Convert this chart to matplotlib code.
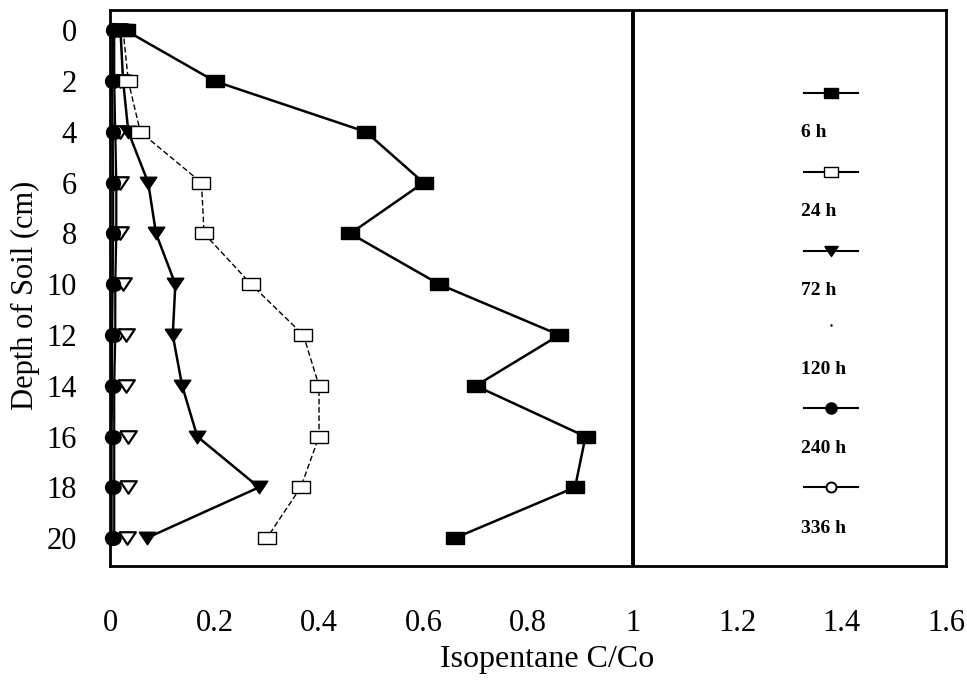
import numpy as np
import matplotlib
matplotlib.use("Agg")
import matplotlib.pyplot as plt

plt.rcParams['font.family'] = ['Liberation Serif', 'DejaVu Serif']

# soil depth (cm) and isopentane C/Co at each sampling time
depth = [0, 2, 4, 6, 8, 10, 12, 14, 16, 18, 20]
c_6h = [0.03, 0.20, 0.49, 0.60, 0.46, 0.63, 0.86, 0.70, 0.91, 0.89, 0.66]
c_24h = [0.025, 0.035, 0.058, 0.175, 0.18, 0.27, 0.37, 0.40, 0.40, 0.365, 0.30]
c_72h = [0.02, 0.025, 0.035, 0.073, 0.088, 0.125, 0.12, 0.138, 0.167, 0.285, 0.07]
c_120h = [0.015, 0.02, 0.02, 0.02, 0.02, 0.024, 0.03, 0.031, 0.035, 0.035, 0.033]
c_240h = [0.005, 0.004, 0.005, 0.006, 0.006, 0.005, 0.004, 0.004, 0.003, 0.003, 0.003]
c_336h = [0.008, 0.008, 0.010, 0.012, 0.012, 0.010, 0.010, 0.008, 0.008, 0.008, 0.008]

labels = ['6 h', '24 h', '72 h', '120 h', '240 h', '336 h']
xticks = [0, 0.2, 0.4, 0.6, 0.8, 1, 1.2, 1.4, 1.6]
xticklabels = ['0', '0.2', '0.4', '0.6', '0.8', '1', '1.2', '1.4', '1.6']

# slightly flattened marker shapes
sq = [(-1, -0.7), (1, -0.7), (1, 0.7), (-1, 0.7), (-1, -0.7)]
tri = [(-1, 0.75), (1, 0.75), (0, -0.75), (-1, 0.75)]

styles = [
    dict(marker=sq, ms=13, mfc='black', ls='-', lw=1.8),
    dict(marker=sq, ms=13, mfc='white', mew=1.0, ls=(0, (4, 2)), lw=1.0),
    dict(marker=tri, ms=12, mfc='black', ls='-', lw=1.8),
    dict(marker=tri, ms=12, mfc='white', mew=1.6, ls='none', lw=0),
    dict(marker='o', ms=10, mfc='black', ls='-', lw=1.6),
    dict(marker='o', ms=9, mfc='white', mew=1.4, ls='-', lw=1.6),
]

fig = plt.figure(figsize=(9.67, 6.80), dpi=100)
ax = fig.add_axes([0.1138, 0.1676, 0.8645, 0.8176])

series = [c_6h, c_24h, c_72h, c_120h, c_240h, c_336h]
order = [5, 4, 3, 2, 1, 0]
for i in order:
    ax.plot(series[i], depth, color='black', mec='black', clip_on=False,
            zorder=3 + (5 - i) * 0.1 if i != 4 else 3.6, **styles[i])

ax.axvline(1.0, color='black', lw=2.8)

ax.set_xlim(0, 1.6)
ax.set_ylim(21.1, -0.8)
ax.set_xticks(xticks)
ax.set_xticklabels(xticklabels, fontsize=22)
ax.set_yticks(depth)
ax.set_yticklabels([str(d) for d in depth], fontsize=22)
ax.tick_params(axis='x', length=0, pad=31)
ax.tick_params(axis='y', length=0, pad=24)
for s in ax.spines.values():
    s.set_linewidth(2.0)

ax.set_xlabel('Isopentane C/Co', fontsize=23)
ax.xaxis.set_label_coords(0.523, -0.142)
ax.set_ylabel('Depth of Soil (cm)', fontsize=22)
ax.yaxis.set_label_coords(-0.084, 0.487)

# legend: sample line above, label below
line_y = [0.851, 0.709, 0.567, 0.433, 0.284, 0.142]
text_y = [0.779, 0.637, 0.496, 0.353, 0.212, 0.068]
for i in range(6):
    st = dict(styles[i])
    st['ms'] = st['ms'] * 0.8
    if i == 3:
        # 120 h shows only a tiny dot in the key
        ax.plot([0.862], [line_y[i]], transform=ax.transAxes, marker='.',
                ms=1.5, color='black', ls='none')
    else:
        st['ls'] = '-'
        st['lw'] = 1.5
        ax.plot([0.83, 0.862, 0.895], [line_y[i]] * 3, transform=ax.transAxes,
                color='black', mec='black', markevery=[1], **st)
    ax.text(0.826, text_y[i], labels[i], transform=ax.transAxes,
            fontsize=14, fontweight='bold', ha='left', va='center')

fig.savefig('out.png', dpi=100)
